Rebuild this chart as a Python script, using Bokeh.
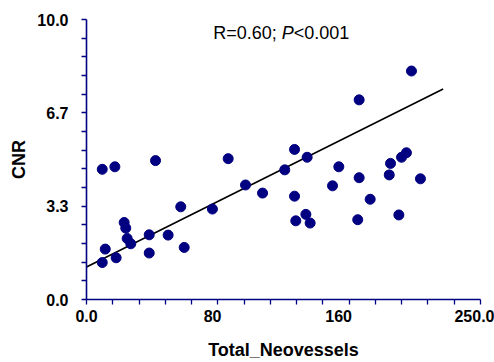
from bokeh.plotting import figure
from bokeh.models import Range1d, FixedTicker, Label
from bokeh.embed import file_html
from bokeh.resources import INLINE

# Data
total_neovessels = [10.0, 18.0, 43.8, 89.9, 125.8, 100.9, 111.7, 59.8, 79.9, 23.9,
                    24.9, 25.8, 28.1, 39.8, 51.8, 11.9, 62.0, 39.8, 18.8, 10.0,
                    132.0, 140.0, 160.1, 173.0, 156.1, 192.9, 199.9, 203.0, 192.1, 211.9,
                    132.0, 180.0, 139.2, 132.8, 141.9, 172.1, 198.2, 173.0, 206.2]
cnr = [4.65, 4.74, 4.96, 5.03, 4.63, 4.09, 3.80, 3.31, 3.23, 2.75,
       2.55, 2.18, 1.99, 2.31, 2.30, 1.80, 1.86, 1.66, 1.49, 1.32,
       5.36, 5.08, 4.74, 4.35, 4.06, 4.86, 5.08, 5.24, 4.45, 4.31,
       3.69, 3.58, 3.04, 2.81, 2.73, 2.85, 3.02, 7.13, 8.16]

fit_x = [0.0, 226.3]
fit_intercept = 1.16
fit_slope = 0.0281
fit_y = [fit_intercept + fit_slope * v for v in fit_x]

x_tick_values = [0, 80, 160, 250]
x_tick_labels = ["0.0", "80", "160", "250.0"]
x_minor = [i * 250 / 15 for i in range(16)]
y_tick_values = [0, 10 / 3, 20 / 3, 10]
y_tick_labels = ["0.0", "3.3", "6.7", "10.0"]
y_minor = [i * 10 / 15 for i in range(16)]

x_title = "Total_Neovessels"
y_title = "CNR"

AXC = "#000080"
FONT = "Liberation Sans"

p = figure(width=494, height=362, output_backend="svg", toolbar_location=None,
           x_range=Range1d(0, 250), y_range=Range1d(0, 10),
           min_border_left=86, min_border_right=14, min_border_top=19, min_border_bottom=62)
p.outline_line_color = None
p.grid.visible = False
p.background_fill_color = "white"

p.line(fit_x, fit_y, line_color="black", line_width=1.6)
p.scatter(total_neovessels, cnr, size=10, fill_color=AXC, line_color=AXC)

for ax in (p.xaxis[0], p.yaxis[0]):
    ax.axis_line_color = AXC
    ax.axis_line_width = 1.6
    ax.major_tick_out = 0
    ax.major_tick_in = 0
    ax.minor_tick_out = 5
    ax.minor_tick_in = 0
    ax.minor_tick_line_color = AXC
    ax.minor_tick_line_width = 1.3
    ax.major_label_text_font = FONT
    ax.major_label_text_font_style = "bold"
    ax.major_label_text_font_size = "16px"
    ax.major_label_text_color = "black"
    ax.axis_label_text_font = FONT
    ax.axis_label_text_font_style = "bold"
    ax.axis_label_text_font_size = "18px"
    ax.axis_label_text_color = "black"

p.xaxis.ticker = FixedTicker(ticks=x_tick_values, minor_ticks=x_minor)
p.xaxis.major_label_overrides = dict(zip(x_tick_values, x_tick_labels))
p.xaxis.major_label_standoff = 5
p.xaxis.axis_label = x_title
p.xaxis.axis_label_standoff = 15

p.yaxis.ticker = FixedTicker(ticks=y_tick_values, minor_ticks=y_minor)
p.yaxis.major_label_overrides = dict(zip(y_tick_values, y_tick_labels))
p.yaxis.major_label_standoff = 13
p.yaxis.axis_label = y_title
p.yaxis.axis_label_standoff = 5

ann_x, ann_y = 80.4, 9.15
p.add_layout(Label(x=ann_x, y=ann_y, text="R=0.60; ", text_font=FONT,
                   text_font_size="18px", text_color="black"))
p.add_layout(Label(x=ann_x, y=ann_y, x_offset=68.5, text="P", text_font=FONT,
                   text_font_style="italic", text_font_size="18px", text_color="black"))
p.add_layout(Label(x=ann_x, y=ann_y, x_offset=80.5, text="<0.001", text_font=FONT,
                   text_font_size="18px", text_color="black"))

open("out.html", "w").write(file_html(p, INLINE))
